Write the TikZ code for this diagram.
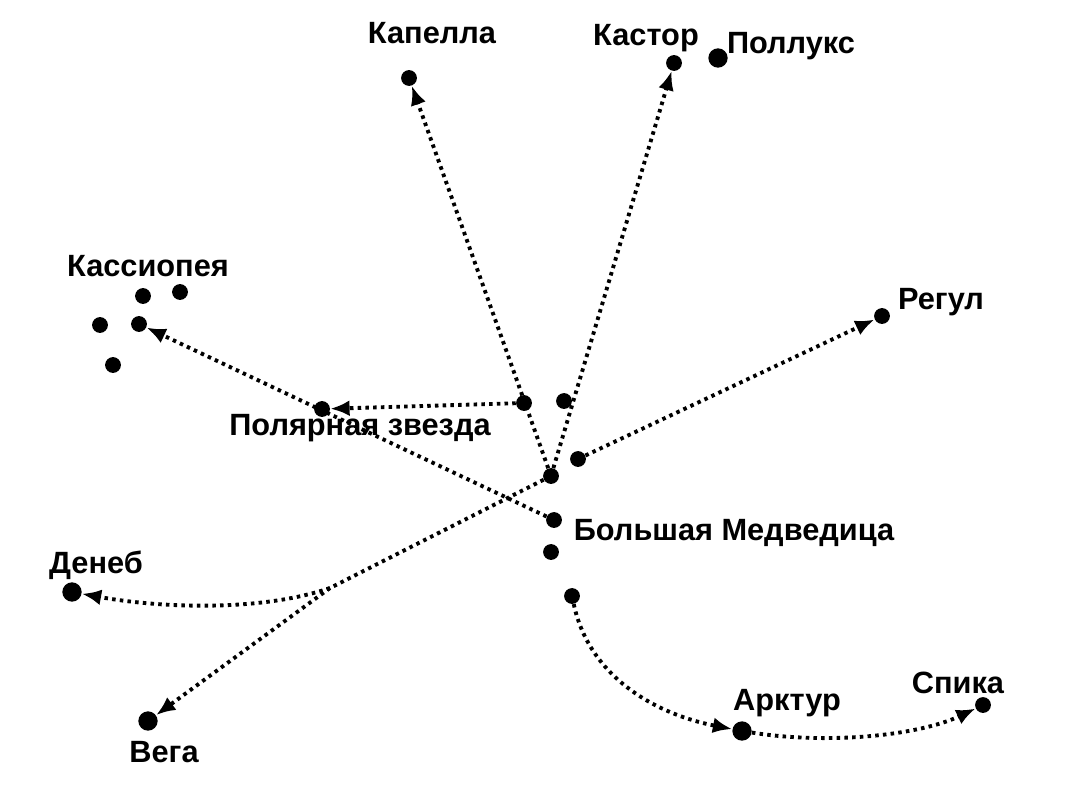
\documentclass[tikz,border=0pt]{standalone}
\usepackage{fontspec}
\setmainfont{Liberation Sans}
\usetikzlibrary{arrows.meta}
\begin{document}
\begin{tikzpicture}[x=0.02cm,y=-0.02cm,
 star/.style={circle,fill=black,inner sep=0pt,minimum size=9pt},
 bstar/.style={circle,fill=black,inner sep=0pt,minimum size=11pt},
 lbl/.style={font=\fontsize{17.5}{20}\selectfont\bfseries},
 con/.style={line width=2.2pt,dash pattern=on 2pt off 2.4pt},
 arr/.style={con,-{Latex[length=11pt,width=9pt]}}]
\useasboundingbox (0,0) rectangle (1070,800);
% stars
\node[star] (d1) at (524,403) {};
\node[star] (d2) at (564,401) {};
\node[star] (d3) at (578,459) {};
\node[star] (d4) at (551,476) {};
\node[star] (d5) at (554,520) {};
\node[star] (d6) at (551,552) {};
\node[star] (d7) at (572,596) {};
\node[star] (pol) at (322,409) {};
\node[star] (c1) at (143,296) {};
\node[star] (c2) at (180,292) {};
\node[star] (c3) at (100,325) {};
\node[star] (c4) at (139,324) {};
\node[star] (c5) at (113,365) {};
\node[star] (kap) at (409,78) {};
\node[star] (kas) at (674,63) {};
\node[bstar] (pox) at (718,58) {};
\node[star] (reg) at (882,316) {};
\node[bstar] (den) at (72,592) {};
\node[bstar] (veg) at (148,721) {};
\node[bstar] (ark) at (742,731) {};
\node[star] (spi) at (983,705) {};
% labels
\node[lbl] (lkap) at (432,33) {Капелла};
\node[lbl] (lkas) at (646,38) {Кастор};
\node[lbl] (lpox) at (791,46) {Поллукс};
\node[lbl] (lcas) at (148,266) {Кассиопея};
\node[lbl] (lreg) at (941,302) {Регул};
\node[lbl] (lpol) at (360,428) {Полярная звезда};
\node[lbl] (lbm) at (734,533) {Большая Медведица};
\node[lbl] (lden) at (96,565) {Денеб};
\node[lbl] (lveg) at (164,752) {Вега};
\node[lbl] (lark) at (787,703) {Арктур};
\node[lbl] (lspi) at (958,683) {Спика};
\coordinate (j) at (330,588);
% connectors
\draw[arr] (d4) -- (kap);
\draw[arr] (d4) -- (kas);
\draw[arr] (d1) -- (pol);
\draw[arr] (d5) -- (c4);
\draw[arr] (d3) -- (reg);
\draw[con] (d4) -- (j);
\draw[arr] (j) -- (veg);
\draw[arr] (j) .. controls (260,612) and (160,608) .. (den);
\draw[arr] (d7) .. controls (590,680) and (660,715) .. (ark);
\draw[arr] (ark) .. controls (830,745) and (920,735) .. (spi);
\end{tikzpicture}
\end{document}
